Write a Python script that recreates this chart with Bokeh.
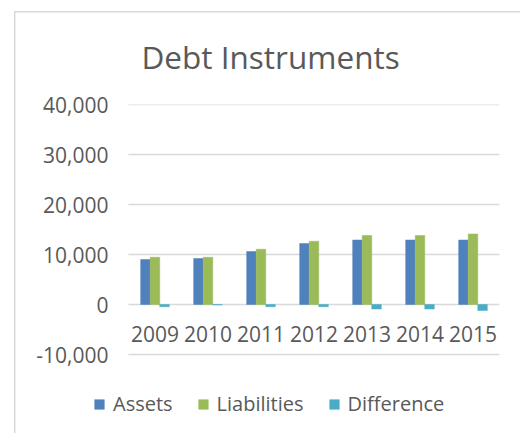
from bokeh.plotting import figure
from bokeh.models import (Range1d, FixedTicker, NumeralTickFormatter,
                          Legend, LegendItem, ColumnDataSource)
from bokeh.transform import dodge
from bokeh.embed import file_html
from bokeh.resources import INLINE

years = ["2009", "2010", "2011", "2012", "2013", "2014", "2015"]
assets = [9000, 9200, 10600, 12200, 12900, 12900, 12900]
liabilities = [9450, 9450, 11050, 12650, 13800, 13800, 14100]
difference = [-450, -100, -450, -450, -900, -900, -1200]
y_ticks = [-10000, 0, 10000, 20000, 30000, 40000]
series_names = ["Assets", "Liabilities", "Difference"]
colors = ["#4F81BD", "#9BBB59", "#4BACC6"]

FONT = "Open Sans"
TXT = "#595959"

n = len(years)
idx = list(range(n))
src = ColumnDataSource(dict(xi=idx, year=years, assets=assets,
                            liabilities=liabilities, difference=difference))

# each year is one unit slot; extra room on the left and below hosts the legend
p = figure(x_range=Range1d(-1.16, n - 0.5),
           y_range=Range1d(-23400, 40000),
           width=520, height=433, output_backend="svg", toolbar_location=None,
           min_border_left=93, min_border_right=21, min_border_top=104,
           min_border_bottom=12, title="Debt Instruments")

p.border_fill_color = None
p.styles = {"box-shadow": "inset 14px 11px 0 0 #FFFFFF, inset 15.5px 12.5px 0 0 #D9D9D9"}

p.title.text_font = FONT
p.title.text_font_size = "31.5px"
p.title.text_font_style = "normal"
p.title.text_color = TXT
p.title.align = "left"
p.title.offset = 48
p.title.standoff = 54

# gridlines across the category slots only
p.segment(x0=-0.5, x1=n - 0.5, y0=y_ticks, y1=y_ticks,
          line_color="#D9D9D9", line_width=1.5)

bw = 0.18
offsets = [-bw, 0, bw]
fields = ["assets", "liabilities", "difference"]
renderers = []
for f, off, c in zip(fields, offsets, colors):
    r = p.vbar(x=dodge("xi", off), top=f, bottom=0, width=bw,
               source=src, fill_color=c, line_color=c, line_width=0.5)
    renderers.append(r)

legend = Legend(items=[LegendItem(label=s, renderers=[r]) for s, r in zip(series_names, renderers)],
                orientation="horizontal", location=(0, 4),
                glyph_width=12, glyph_height=12, label_standoff=8, spacing=24,
                padding=0, margin=0, border_line_color=None, background_fill_alpha=0,
                label_text_font=FONT, label_text_font_size="20px", label_text_color=TXT)
p.add_layout(legend, "center")

p.yaxis.ticker = FixedTicker(ticks=y_ticks)
p.yaxis.formatter = NumeralTickFormatter(format="0,0")
p.yaxis.axis_line_color = None
p.yaxis.major_tick_line_color = None
p.yaxis.minor_tick_line_color = None
p.yaxis.major_tick_out = 0
p.yaxis.major_tick_in = 0
p.yaxis.major_label_standoff = -15
p.yaxis.major_label_text_font = FONT
p.yaxis.major_label_text_font_size = "21px"
p.yaxis.major_label_text_color = TXT

# category labels sit just under the zero line
p.xaxis.fixed_location = -10000
p.xaxis.ticker = FixedTicker(ticks=idx)
p.xaxis.major_label_overrides = {i: y for i, y in zip(idx, years)}
p.xaxis.axis_line_color = None
p.xaxis.major_tick_line_color = None
p.xaxis.minor_tick_line_color = None
p.xaxis.major_tick_out = 0
p.xaxis.major_tick_in = 0
p.xaxis.major_label_standoff = -29
p.xaxis.major_label_text_font = FONT
p.xaxis.major_label_text_font_size = "21px"
p.xaxis.major_label_text_color = TXT

p.xgrid.grid_line_color = None
p.ygrid.grid_line_color = None
p.outline_line_color = None

open("out.html", "w").write(file_html(p, INLINE))
